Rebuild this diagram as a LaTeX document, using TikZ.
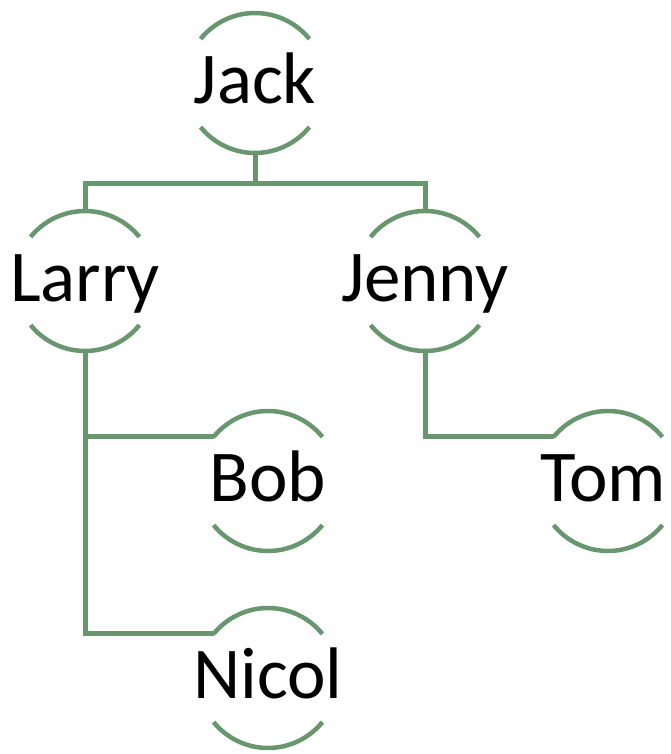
\documentclass[tikz,border=0pt]{standalone}
\usepackage{fontspec}
\setmainfont{Carlito}
\definecolor{treegreen}{RGB}{104,150,110}
\tikzset{
  person/.style={circle, minimum size=140pt, inner sep=0pt, outer sep=0pt,
    text height=41pt, text depth=0pt, font=\fontsize{73}{87}\selectfont},
  arcline/.style={draw=treegreen, line width=4.5pt},
  conn/.style={draw=treegreen, line width=5pt}
}
\newcommand{\pname}[1]{\makebox[0pt]{#1}}
\begin{document}
\begin{tikzpicture}[x=1pt,y=1pt]
\useasboundingbox (0,0) rectangle (670,-754);
\node[person] (jack)  at (255,-83)  {\pname{Jack}};
\node[person] (larry) at (85,-281)  {\pname{Larry}};
\node[person] (jenny) at (425,-281) {\pname{Jenny}};
\node[person] (bob)   at (268,-481) {\pname{Bob}};
\node[person] (tom)   at (608,-481) {\pname{Tom\kern10pt}};
\node[person] (nicol) at (268,-678) {\pname{Nicol}};
\foreach \n in {jack,larry,jenny,bob,tom,nicol}{
  \draw[arcline] (\n.39) arc[start angle=39,end angle=141,radius=70pt];
  \draw[arcline] (\n.-39) arc[start angle=-39,end angle=-141,radius=70pt];
}
\coordinate (bar) at ([yshift=-30pt]jack.south);
\draw[conn] (jack.south) -- (bar);
\draw[conn] (bar) -| (larry.north);
\draw[conn] (bar) -| (jenny.north);
\draw[conn] (larry.south) |- (bob.141);
\draw[conn] (larry.south) |- (nicol.141);
\draw[conn] (jenny.south) |- (tom.141);
\end{tikzpicture}
\end{document}
